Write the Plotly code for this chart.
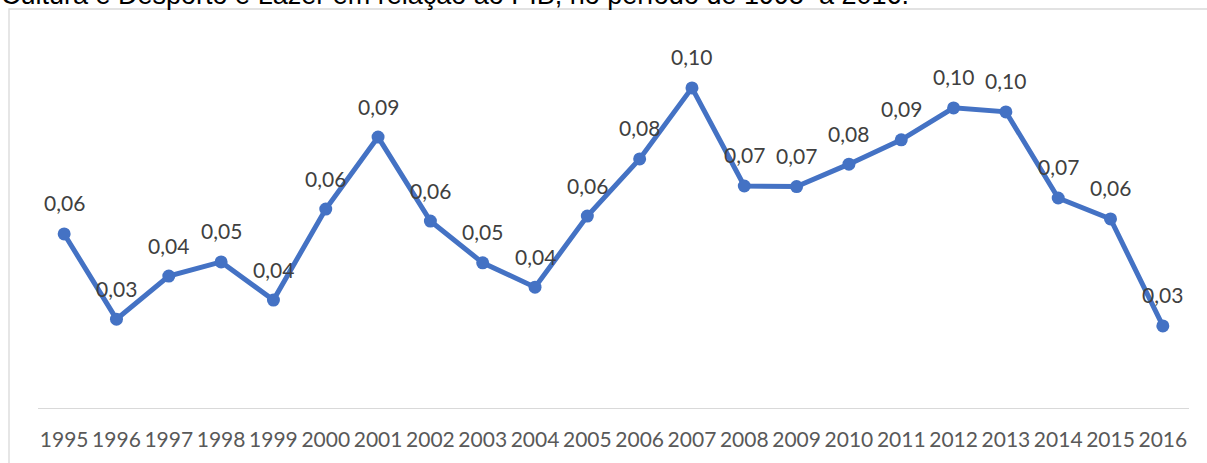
import plotly.graph_objects as go

# Despesa com Cultura e Desporto e Lazer em relação ao PIB (%)
anos = [str(a) for a in range(1995, 2017)]
valores = [0.0566, 0.0289, 0.0429, 0.0475, 0.0351, 0.0647, 0.0881, 0.0608,
           0.0472, 0.0393, 0.0624, 0.0810, 0.1041, 0.0722, 0.0720, 0.0793,
           0.0872, 0.0976, 0.0963, 0.0683, 0.0615, 0.0267]
titulo = "Cultura e Desporto e Lazer em relação ao PIB, no período de 1995  a 2016."

def fmt(v):
    return f"{v:.2f}".replace(".", ",")

AZUL = "#4472C4"

fig = go.Figure()
fig.add_trace(go.Scatter(
    x=anos, y=valores, mode="lines+markers",
    line=dict(color=AZUL, width=5),
    marker=dict(color=AZUL, size=13),
    hoverinfo="skip", showlegend=False,
))

# rótulos de dados acima de cada ponto (x pelo índice da categoria)
for i, v in enumerate(valores):
    fig.add_annotation(x=i, y=v, text=fmt(v), showarrow=False,
                       yshift=31, yanchor="middle", xanchor="center",
                       font=dict(family="Lato", size=21, color="#404040"))

# título (parcialmente acima da área visível)
fig.add_annotation(xref="paper", yref="paper", x=-0.034, y=1.118,
                   xanchor="left", yanchor="middle", showarrow=False,
                   text=titulo,
                   font=dict(family="Liberation Sans", size=27, color="#000000"))

# moldura da área do gráfico
fig.add_shape(type="rect", xref="paper", yref="paper",
              x0=-0.0252, y0=-0.5, x1=1.3, y1=1.0813,
              line=dict(color="#D9D9D9", width=1.3), fillcolor="rgba(0,0,0,0)",
              layer="below")

fig.update_layout(
    width=1207, height=463,
    margin=dict(l=38, r=18, t=39, b=55),
    paper_bgcolor="white", plot_bgcolor="white",
    xaxis=dict(type="category", range=[-0.5, 21.5], showgrid=False,
               showline=True, linecolor="#D9D9D9", linewidth=1.3,
               ticks="", ticklabelstandoff=13,
               tickfont=dict(family="Lato", size=21, color="#595959"),
               fixedrange=True),
    yaxis=dict(range=[0, 0.12], visible=False, showgrid=False,
               zeroline=False, fixedrange=True),
)

fig.write_html("out.html")
